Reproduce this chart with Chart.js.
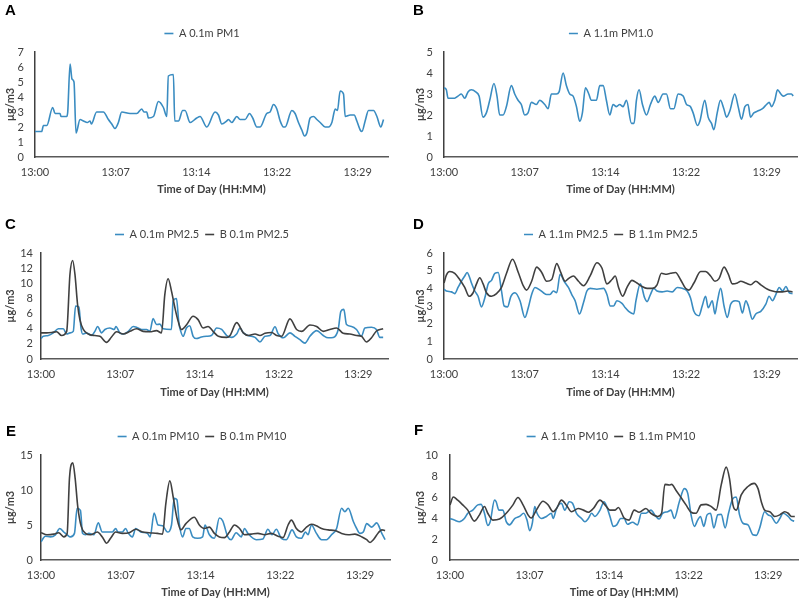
<!DOCTYPE html>
<html>
<head>
<meta charset="utf-8">
<script src="https://cdn.jsdelivr.net/npm/chart.js@4.4.1/dist/chart.umd.min.js"></script>
<style>
  body { margin: 0; background: #fff; width: 800px; height: 600px; position: relative; overflow: hidden; }
  canvas { position: absolute; }
  .letter { position: absolute; font: bold 15px "Liberation Sans", Arial, sans-serif; line-height: 15px; color: #000; }
</style>
</head>
<body>
<canvas id="cA" width="400" height="200" style="left:0;top:0"></canvas>
<canvas id="cB" width="400" height="200" style="left:400px;top:0"></canvas>
<canvas id="cC" width="400" height="200" style="left:0;top:201px"></canvas>
<canvas id="cD" width="400" height="200" style="left:400px;top:201px"></canvas>
<canvas id="cE" width="400" height="197" style="left:0;top:403px"></canvas>
<canvas id="cF" width="400" height="197" style="left:400px;top:403px"></canvas>
<div class="letter" style="left:5px;top:2px">A</div>
<div class="letter" style="left:413px;top:2px">B</div>
<div class="letter" style="left:5px;top:216px">C</div>
<div class="letter" style="left:413px;top:216px">D</div>
<div class="letter" style="left:6px;top:423px">E</div>
<div class="letter" style="left:414px;top:422px">F</div>
<script>
// minutes after 13:00 and readings (ug/m3)

// A - 0.1m PM1
const a01Pm1T = [0, 0.6, 0.75, 1.05, 1.58, 1.79, 2.23, 2.32, 2.83, 2.92, 3.13, 3.3, 3.48, 3.66, 4.02, 4.32, 4.67, 4.91, 5.03, 5.5, 6.1, 6.55, 6.85, 7.14, 7.44, 7.74, 8.48, 9.08, 9.52, 9.73, 9.97, 10.12, 10.57, 11.01, 11.46, 11.76, 11.9, 12.35, 12.47, 12.8, 13.18, 13.39, 13.84, 14.43, 14.73, 15.33, 16.07, 16.37, 16.67, 17.11, 17.26, 17.56, 18.01, 18.3, 18.75, 19.14, 19.43, 19.79, 20.09, 20.68, 20.98, 21.28, 21.58, 21.88, 22.17, 22.32, 22.92, 23.21, 23.51, 23.81, 24.05, 24.26, 24.55, 24.85, 25.15, 25.45, 25.89, 26.19, 26.49, 26.79, 26.99, 27.23, 27.53, 27.68, 28.13, 28.48, 28.72, 29.02, 29.17, 29.46, 29.76, 30.21, 30.51, 30.86, 31.1];
const a01Pm1V = [1.7, 1.7, 2.1, 2.1, 3.3, 2.9, 2.9, 2.7, 2.7, 3.0, 6.2, 5.2, 5.0, 1.6, 2.5, 2.4, 2.3, 2.4, 2.2, 3.0, 3.0, 2.5, 2.2, 1.9, 2.3, 3.0, 2.9, 2.9, 3.2, 3.0, 3.0, 2.6, 2.7, 3.7, 3.3, 2.7, 5.4, 5.5, 2.4, 2.4, 3.1, 3.1, 2.3, 2.6, 2.7, 2.0, 3.0, 2.8, 2.2, 2.4, 2.5, 2.3, 2.7, 2.5, 2.5, 2.9, 2.6, 2.0, 2.0, 2.9, 3.0, 3.5, 3.2, 2.4, 2.0, 2.0, 3.1, 2.9, 2.3, 1.8, 1.4, 1.6, 2.6, 2.7, 2.5, 2.3, 2.0, 2.0, 2.3, 3.2, 3.1, 4.4, 4.2, 2.7, 2.8, 2.8, 2.4, 1.8, 1.7, 2.4, 3.1, 3.1, 2.7, 2.0, 2.5];

// B - 1.1m PM1.0
const a11Pm1T = [0, 0.21, 0.36, 0.65, 0.95, 1.25, 1.55, 1.85, 2.14, 2.44, 2.83, 3.13, 3.48, 3.78, 4.08, 4.46, 4.73, 4.97, 5.27, 5.57, 6.01, 6.31, 6.61, 6.9, 7.2, 7.5, 7.8, 8.24, 8.54, 8.99, 9.29, 9.58, 10.03, 10.27, 10.63, 10.92, 11.22, 11.52, 11.82, 12.11, 12.35, 12.62, 12.92, 13.15, 13.6, 13.9, 14.2, 14.49, 14.79, 15.09, 15.39, 15.68, 15.98, 16.28, 16.73, 16.96, 17.17, 17.41, 17.71, 18.07, 18.42, 18.81, 19.11, 19.55, 19.85, 20.21, 20.51, 20.89, 21.34, 21.64, 21.99, 22.23, 22.62, 22.83, 23.27, 23.57, 23.87, 24.08, 24.38, 24.67, 24.97, 25.21, 25.51, 25.95, 26.25, 26.55, 26.85, 27.14, 27.35, 27.65, 28.04, 28.42, 28.78, 29.02, 29.23, 29.52, 29.76, 30.06, 30.27, 30.71, 31.01, 31.16];
const a11Pm1V = [3.3, 3.2, 2.8, 2.8, 2.8, 2.9, 3.0, 2.8, 3.1, 3.2, 3.1, 2.9, 1.9, 2.1, 2.7, 3.5, 2.9, 2.0, 2.0, 2.4, 3.4, 3.0, 2.7, 2.5, 2.0, 2.1, 2.6, 2.5, 2.7, 2.5, 2.3, 3.0, 3.0, 3.1, 4.0, 3.4, 3.0, 2.9, 2.4, 1.7, 2.1, 3.3, 3.0, 2.7, 2.7, 3.4, 3.4, 2.7, 2.0, 2.5, 2.4, 2.5, 2.4, 2.7, 1.6, 1.6, 2.7, 3.2, 2.5, 2.0, 2.5, 2.9, 2.6, 3.0, 3.0, 2.3, 2.3, 3.0, 2.9, 2.5, 2.4, 2.1, 1.5, 1.7, 2.7, 1.9, 1.6, 1.3, 2.1, 2.7, 2.3, 1.9, 2.2, 3.0, 2.4, 1.8, 2.4, 2.5, 1.9, 2.1, 2.2, 2.3, 2.5, 2.6, 2.4, 2.7, 3.2, 3.0, 2.9, 3.0, 3.0, 2.9];

// C - 0.1m PM2.5
const a01Pm25T = [0, 0.21, 0.66, 1.12, 1.57, 2.02, 2.33, 2.63, 2.93, 3.14, 3.44, 3.63, 3.78, 4.14, 4.59, 4.89, 5.14, 5.5, 5.8, 6.25, 6.65, 6.8, 7.16, 7.46, 7.92, 8.37, 8.67, 9.12, 9.58, 9.88, 10.18, 10.48, 10.79, 11.09, 11.84, 11.99, 12.3, 12.51, 12.69, 12.9, 13.2, 13.5, 13.81, 14.11, 14.56, 15.02, 15.47, 15.95, 16.4, 16.86, 17.31, 17.76, 18.07, 18.37, 18.82, 19.43, 19.88, 20.33, 20.79, 21.24, 21.54, 21.99, 22.6, 23.05, 23.5, 23.96, 24.41, 25.02, 25.62, 26.07, 26.53, 26.98, 27.22, 27.49, 27.73, 28.19, 28.64, 29.09, 29.4, 30.0, 30.45, 30.76, 31.06];
const a01Pm25V = [2.7, 3.0, 3.1, 3.45, 4.0, 4.0, 3.3, 3.45, 3.65, 7.0, 6.85, 4.1, 3.3, 3.45, 3.1, 3.65, 4.3, 3.45, 3.9, 4.1, 3.9, 4.3, 3.45, 3.3, 3.65, 4.3, 4.2, 3.9, 3.9, 3.65, 5.35, 4.55, 4.6, 4.0, 3.9, 7.65, 8.0, 4.8, 3.65, 3.0, 4.1, 4.4, 3.0, 2.7, 2.9, 3.0, 3.1, 4.1, 3.9, 3.1, 2.85, 3.3, 4.1, 3.45, 3.1, 2.85, 2.25, 3.0, 3.1, 4.25, 3.3, 2.8, 3.45, 3.0, 2.55, 2.1, 3.0, 3.75, 3.1, 2.8, 2.85, 3.9, 6.3, 6.55, 4.55, 4.3, 3.9, 3.0, 4.1, 4.2, 3.9, 2.85, 2.85];
const b01Pm25T = [0, 0.51, 0.97, 1.42, 1.87, 2.33, 2.63, 2.87, 3.08, 3.32, 3.53, 3.84, 4.29, 4.89, 5.35, 5.95, 6.4, 6.86, 7.46, 8.07, 8.67, 9.27, 9.88, 10.48, 10.94, 11.24, 11.54, 11.84, 12.15, 12.45, 12.75, 13.2, 13.81, 14.26, 14.71, 15.17, 15.62, 16.1, 16.86, 17.16, 17.76, 18.37, 18.82, 19.43, 19.88, 20.33, 20.94, 21.39, 21.84, 22.6, 23.2, 23.66, 24.41, 25.02, 25.62, 26.22, 26.83, 27.43, 28.04, 28.64, 29.09, 29.55, 30.0, 30.45, 31.06];
const b01Pm25V = [3.45, 3.45, 3.5, 3.6, 3.1, 3.65, 11.2, 13.0, 11.2, 7.2, 5.2, 3.9, 3.3, 3.1, 3.0, 2.2, 2.9, 3.6, 3.3, 3.65, 4.0, 3.65, 3.6, 3.75, 3.45, 8.5, 10.6, 9.0, 6.8, 5.0, 3.9, 4.5, 5.65, 5.2, 4.1, 4.3, 3.65, 3.0, 2.85, 3.1, 4.8, 3.45, 3.1, 3.3, 3.1, 3.4, 3.5, 3.1, 3.0, 5.3, 3.9, 3.65, 4.5, 4.3, 3.65, 3.9, 4.1, 3.4, 3.3, 3.1, 3.0, 2.25, 2.8, 3.7, 4.0];

// D - 1.1m PM2.5
const a11Pm25T = [0, 0.21, 0.66, 0.96, 1.25, 1.55, 1.85, 2.06, 2.24, 2.45, 2.75, 3.04, 3.34, 3.64, 3.94, 4.24, 4.54, 4.84, 5.13, 5.37, 5.67, 5.97, 6.33, 6.78, 7.22, 7.52, 7.82, 8.12, 8.57, 8.87, 9.16, 9.46, 9.76, 10.06, 10.36, 10.72, 11.1, 11.4, 11.7, 12.09, 12.45, 12.75, 13.04, 13.64, 14.24, 14.54, 14.84, 15.13, 15.43, 15.88, 16.18, 16.48, 16.93, 17.13, 17.52, 17.91, 18.12, 18.42, 18.72, 19.01, 19.46, 19.91, 20.36, 20.81, 21.25, 21.7, 22.0, 22.3, 22.75, 23.04, 23.34, 23.58, 23.94, 24.18, 24.39, 24.69, 24.99, 25.28, 25.58, 25.97, 26.33, 26.63, 26.93, 27.16, 27.52, 27.82, 28.27, 28.72, 29.01, 29.31, 29.61, 29.91, 30.21, 30.51, 30.81, 31.1];
const a11Pm25V = [3.95, 3.85, 3.8, 3.7, 4.05, 4.4, 4.7, 4.9, 4.7, 4.3, 3.85, 3.55, 2.95, 3.45, 4.25, 4.45, 4.85, 4.9, 3.85, 3.0, 2.95, 3.55, 3.75, 3.3, 2.35, 2.9, 3.65, 4.05, 3.9, 3.75, 3.65, 3.65, 3.85, 3.75, 4.8, 4.4, 4.05, 3.65, 3.3, 2.55, 3.2, 3.85, 4.0, 3.95, 4.0, 3.65, 3.0, 3.0, 3.3, 3.15, 2.9, 2.7, 2.55, 3.3, 4.25, 3.45, 3.25, 3.65, 4.0, 3.85, 3.8, 3.85, 3.8, 4.05, 4.0, 3.85, 3.45, 2.7, 2.45, 3.0, 3.55, 2.9, 3.3, 2.55, 3.25, 4.0, 3.0, 2.35, 3.1, 3.3, 3.25, 2.6, 3.3, 3.0, 2.25, 2.55, 2.7, 3.1, 3.55, 3.3, 3.65, 4.05, 3.85, 4.1, 3.75, 3.7];
const b11Pm25T = [0, 0.21, 0.51, 0.96, 1.4, 1.85, 2.24, 2.6, 2.9, 3.19, 3.49, 3.79, 4.24, 4.69, 5.13, 5.58, 6.12, 6.63, 7.07, 7.37, 7.82, 8.27, 8.72, 9.16, 9.61, 10.06, 10.42, 10.81, 11.1, 11.55, 12.0, 12.45, 13.04, 13.64, 14.09, 14.54, 14.99, 15.28, 15.58, 15.94, 16.33, 16.78, 17.22, 17.67, 18.12, 18.57, 19.01, 19.4, 19.76, 20.21, 20.66, 21.1, 21.55, 21.85, 22.3, 22.9, 23.34, 23.79, 24.18, 24.54, 24.99, 25.37, 25.73, 26.18, 26.48, 26.93, 27.37, 27.82, 28.27, 28.87, 29.31, 29.76, 30.21, 30.66, 31.1];
const b11Pm25V = [4.3, 4.75, 4.95, 4.85, 4.5, 4.05, 3.55, 3.75, 4.25, 4.6, 4.25, 3.75, 3.55, 3.7, 4.05, 4.85, 5.65, 4.9, 4.15, 3.9, 4.4, 5.2, 4.9, 4.4, 4.5, 5.4, 4.9, 4.4, 4.55, 4.7, 4.4, 4.15, 4.7, 5.45, 5.15, 4.25, 4.5, 4.7, 4.05, 3.55, 4.05, 4.45, 4.3, 4.1, 4.0, 4.0, 4.2, 4.85, 4.8, 4.85, 4.9, 4.5, 4.0, 3.9, 4.3, 4.95, 4.95, 4.7, 4.4, 4.55, 5.2, 4.8, 4.25, 4.3, 4.4, 4.3, 4.2, 4.4, 4.2, 3.95, 3.85, 3.8, 3.8, 3.85, 3.8];

// E - 0.1m PM10
const a01Pm10T = [0, 0.39, 0.85, 1.3, 1.69, 2.05, 2.36, 2.66, 3.02, 3.26, 3.56, 3.75, 4.02, 4.32, 4.77, 5.17, 5.53, 5.98, 6.44, 6.74, 6.95, 7.34, 7.64, 7.85, 8.25, 8.55, 9.0, 9.61, 9.85, 10.21, 10.57, 10.97, 11.42, 11.78, 12.02, 12.27, 12.48, 12.78, 13.08, 13.38, 13.69, 14.14, 14.59, 14.8, 15.2, 15.65, 16.1, 16.4, 16.86, 17.16, 17.61, 18.07, 18.37, 18.67, 19.43, 20.03, 20.48, 20.85, 21.24, 21.69, 22.15, 22.66, 23.05, 23.5, 23.87, 24.1, 24.41, 24.86, 25.32, 25.77, 26.22, 26.68, 27.13, 27.43, 27.73, 28.19, 28.49, 28.79, 29.09, 29.4, 29.85, 30.3, 30.76, 31.06];
const a01Pm10V = [2.6, 3.4, 3.3, 3.6, 4.5, 4.0, 3.6, 3.3, 3.8, 7.4, 7.1, 3.8, 3.6, 3.8, 3.6, 5.3, 4.0, 4.0, 4.0, 4.5, 4.0, 4.0, 4.5, 3.9, 3.3, 4.5, 4.0, 3.8, 3.3, 6.7, 5.0, 4.9, 4.0, 5.0, 8.8, 8.6, 5.2, 3.3, 4.5, 4.5, 3.3, 3.1, 3.3, 5.0, 3.6, 3.1, 6.0, 5.6, 3.3, 2.9, 3.9, 3.3, 4.5, 3.8, 2.9, 3.0, 4.4, 3.6, 4.4, 3.1, 2.9, 4.3, 3.3, 3.1, 4.0, 3.6, 5.0, 3.8, 2.9, 2.9, 3.6, 4.5, 7.4, 6.9, 7.4, 5.5, 4.5, 3.8, 4.0, 5.2, 4.7, 5.3, 3.8, 2.9];
const b01Pm10T = [0, 0.54, 1.15, 1.6, 2.05, 2.36, 2.57, 2.87, 3.08, 3.32, 3.63, 4.02, 4.47, 5.08, 5.53, 5.92, 6.28, 6.74, 7.34, 7.95, 8.55, 9.15, 9.76, 10.51, 10.97, 11.27, 11.63, 11.93, 12.24, 12.63, 13.08, 13.84, 14.29, 14.74, 15.2, 15.65, 16.1, 16.56, 17.01, 17.46, 17.92, 18.37, 18.97, 19.58, 20.18, 20.79, 21.39, 21.84, 22.3, 22.6, 23.05, 23.5, 23.96, 24.41, 24.86, 25.32, 25.92, 26.53, 27.13, 27.73, 28.34, 28.94, 29.4, 29.7, 30.0, 30.45, 30.76, 31.06];
const b01Pm10V = [3.9, 3.6, 3.7, 3.9, 3.3, 3.8, 11.7, 13.9, 11.7, 7.6, 4.8, 3.8, 3.6, 4.0, 3.3, 2.4, 3.1, 4.0, 3.8, 3.9, 4.4, 4.0, 3.9, 3.8, 3.7, 8.1, 11.3, 9.0, 6.2, 4.3, 5.2, 6.1, 5.0, 4.5, 4.7, 3.8, 3.3, 3.2, 4.0, 5.0, 4.5, 3.6, 3.7, 3.8, 3.6, 3.8, 3.4, 3.2, 5.0, 5.7, 4.5, 4.0, 4.7, 5.1, 4.9, 4.5, 4.3, 4.2, 3.8, 3.6, 3.7, 3.3, 2.9, 2.5, 2.9, 3.9, 4.3, 4.2];

// F - 1.1m PM10
const a11Pm10T = [0, 0.39, 0.85, 1.3, 1.61, 2.06, 2.52, 2.82, 3.12, 3.42, 3.64, 4.03, 4.18, 4.42, 4.79, 5.09, 5.39, 5.85, 6.3, 6.67, 6.97, 7.21, 7.45, 7.67, 7.88, 8.27, 8.73, 9.18, 9.33, 9.64, 10.09, 10.39, 10.79, 11.09, 11.45, 11.91, 12.21, 12.52, 12.82, 13.12, 13.58, 13.94, 14.18, 14.48, 14.79, 15.09, 15.45, 15.76, 16.06, 16.52, 16.97, 17.33, 17.73, 18.18, 18.64, 18.94, 19.24, 19.7, 20.0, 20.3, 20.76, 21.21, 21.52, 21.82, 22.12, 22.42, 22.67, 22.97, 23.27, 23.58, 23.88, 24.24, 24.55, 24.91, 25.21, 25.61, 25.91, 26.21, 26.52, 26.97, 27.42, 27.73, 28.03, 28.48, 28.79, 29.09, 29.55, 29.85, 30.15, 30.61, 30.91, 31.15];
const a11Pm10V = [3.95, 3.8, 3.65, 3.95, 4.45, 4.75, 5.25, 5.3, 4.45, 3.3, 3.65, 5.7, 5.55, 4.75, 4.75, 3.65, 3.35, 3.95, 4.15, 4.45, 3.8, 2.8, 3.5, 5.1, 4.45, 3.95, 4.15, 4.45, 3.95, 4.9, 5.4, 4.75, 5.55, 5.4, 4.45, 3.95, 3.65, 3.95, 4.45, 4.15, 4.75, 5.55, 5.1, 4.15, 3.2, 3.35, 3.95, 3.95, 3.4, 3.6, 3.35, 4.45, 4.45, 4.75, 4.15, 3.9, 4.45, 4.6, 4.75, 3.95, 5.55, 6.8, 6.35, 4.3, 3.2, 3.8, 4.15, 3.2, 4.3, 4.45, 3.05, 4.3, 4.35, 3.05, 4.45, 5.85, 6.0, 4.3, 3.5, 3.35, 2.4, 2.35, 3.05, 4.6, 4.3, 4.15, 3.5, 3.95, 4.45, 4.15, 3.8, 3.7];
const b11Pm10T = [0, 0.3, 0.7, 1.15, 1.61, 2.21, 2.67, 3.12, 3.42, 3.88, 4.48, 5.09, 5.7, 6.15, 6.61, 7.06, 7.36, 7.82, 8.42, 8.88, 9.33, 9.64, 10.09, 10.55, 11.0, 11.61, 12.06, 12.52, 12.97, 13.58, 14.03, 14.48, 14.94, 15.24, 15.76, 16.21, 16.67, 17.12, 17.73, 18.18, 18.79, 19.15, 19.45, 19.85, 20.06, 20.45, 20.91, 21.36, 21.82, 22.27, 22.73, 23.18, 23.64, 24.09, 24.55, 25.0, 25.3, 25.61, 25.91, 26.36, 26.97, 27.52, 27.88, 28.18, 28.48, 28.94, 29.39, 29.85, 30.3, 30.61, 30.91, 31.21];
const b11Pm10V = [5.25, 6.0, 5.7, 5.25, 4.75, 3.7, 4.3, 5.1, 4.45, 3.8, 3.9, 4.45, 5.25, 5.95, 5.25, 4.3, 4.0, 4.75, 5.6, 5.25, 4.6, 4.9, 5.7, 5.2, 4.6, 4.9, 4.75, 4.55, 4.9, 5.7, 5.25, 4.75, 4.75, 5.0, 4.0, 3.8, 4.75, 4.55, 4.9, 4.45, 4.15, 4.45, 7.2, 7.15, 7.2, 6.65, 5.95, 5.25, 4.55, 4.45, 5.25, 5.3, 5.1, 4.75, 7.15, 8.85, 7.75, 5.25, 4.75, 6.2, 7.0, 7.3, 6.8, 5.55, 4.75, 4.6, 4.15, 4.3, 4.6, 4.45, 4.15, 4.15];

// x axis ticks every 7.2 minutes, labelled as Excel rounds them
const tickMinutes = [0, 7.2, 14.4, 21.6, 28.8];
const tickLabels = ['13:00', '13:07', '13:14', '13:22', '13:29'];

const blue = '#3a8cc1';
const gray = '#404040';
const textColor = '#404040';
const font = 'Lato';

function pts(t, v) {
  return t.map((x, i) => ({ x: x, y: v[i] }));
}

// legend: a bit taller, and centred where the original has it
const tweak = {
  id: 'tweak',
  beforeLayout(chart, args, opts) {
    const lg = chart.legend;
    if (lg && !lg._patched) {
      const fit = lg.fit;
      lg.fit = function () { fit.call(this); this.height += opts.extra; };
      lg._patched = true;
    }
  },
  afterLayout(chart, args, opts) {
    const lg = chart.legend;
    const dx = opts.legendX - (lg.left + lg.right) / 2;
    lg.left += dx;
    lg.right += dx;
  }
};

function panel(id, series, yMax, yStep, box) {
  const canvas = document.getElementById(id);
  const H = canvas.height;
  new Chart(canvas, {
    type: 'line',
    data: {
      datasets: series.map(s => ({
        label: s.label,
        data: pts(s.t, s.v),
        borderColor: s.color,
        backgroundColor: s.color,
        borderWidth: 1.6,
        pointRadius: 0,
        fill: false,
        cubicInterpolationMode: 'monotone',
        order: s.order
      }))
    },
    options: {
      responsive: false,
      animation: false,
      devicePixelRatio: 1,
      layout: { padding: { top: 22, left: 0, right: 400 - box.right, bottom: 0 } },
      plugins: {
        tooltip: { enabled: false },
        tweak: { extra: 3, legendX: box.legendX },
        legend: {
          position: 'top',
          labels: {
            usePointStyle: true,
            pointStyle: 'line',
            pointStyleWidth: 9,
            boxHeight: 11,
            padding: 6,
            color: textColor,
            font: { family: font, size: 11 },
            sort: (a, b) => a.datasetIndex - b.datasetIndex
          }
        }
      },
      scales: {
        x: {
          type: 'linear',
          min: 0,
          max: 31.5,
          afterBuildTicks: s => { s.ticks = tickMinutes.map(v => ({ value: v })); },
          afterFit: s => { s.height = H - box.bottom; },
          grid: { display: false, drawTicks: false },
          border: { display: true, color: '#595959', width: 1.5 },
          ticks: {
            autoSkip: false,
            maxRotation: 0,
            padding: 9,
            color: textColor,
            font: { family: font, size: 11 },
            callback: (v, i) => tickLabels[i]
          },
          title: {
            display: true,
            text: 'Time of Day (HH:MM)',
            color: textColor,
            font: { family: font, size: 11, weight: 'bold' },
            padding: { top: 0, bottom: H - box.xTitleY - 6.6 }
          }
        },
        y: {
          min: 0,
          max: yMax,
          afterFit: s => { s.width = box.left; },
          grid: { display: false, drawTicks: false },
          border: { display: true, color: '#404040', width: 1.5 },
          ticks: {
            stepSize: yStep,
            autoSkip: false,
            padding: box.tickPad,
            color: textColor,
            font: { family: font, size: 11 }
          },
          title: {
            display: true,
            text: 'µg/m3',
            color: textColor,
            font: { family: font, size: 11, weight: 'bold' },
            padding: { top: box.yTitleX - 6.6, bottom: 0 }
          }
        }
      }
    },
    plugins: [tweak]
  });
}

panel('cA', [
  { label: 'A 0.1m PM1', t: a01Pm1T, v: a01Pm1V, color: blue, order: 1 }
], 7, 1, { left: 35, right: 388, bottom: 157, xTitleY: 189, yTitleX: 10.5, tickPad: 11, legendX: 202 });

panel('cB', [
  { label: 'A 1.1m PM1.0', t: a11Pm1T, v: a11Pm1V, color: blue, order: 1 }
], 5, 1, { left: 44, right: 397, bottom: 157, xTitleY: 189, yTitleX: 20, tickPad: 11, legendX: 211 });

panel('cC', [
  { label: 'A 0.1m PM2.5', t: a01Pm25T, v: a01Pm25V, color: blue, order: 1 },
  { label: 'B 0.1m PM2.5', t: b01Pm25T, v: b01Pm25V, color: gray, order: 0 }
], 14, 2, { left: 41, right: 388, bottom: 158, xTitleY: 191, yTitleX: 10.5, tickPad: 8, legendX: 202 });

panel('cD', [
  { label: 'A 1.1m PM2.5', t: a11Pm25T, v: a11Pm25V, color: blue, order: 1 },
  { label: 'B 1.1m PM2.5', t: b11Pm25T, v: b11Pm25V, color: gray, order: 0 }
], 6, 1, { left: 44, right: 397, bottom: 158, xTitleY: 191, yTitleX: 20, tickPad: 11, legendX: 211 });

panel('cE', [
  { label: 'A 0.1m PM10', t: a01Pm10T, v: a01Pm10V, color: blue, order: 1 },
  { label: 'B 0.1m PM10', t: b01Pm10T, v: b01Pm10V, color: gray, order: 0 }
], 15, 5, { left: 41, right: 390, bottom: 157, xTitleY: 189, yTitleX: 10.5, tickPad: 8, legendX: 202 });

panel('cF', [
  { label: 'A 1.1m PM10', t: a11Pm10T, v: a11Pm10V, color: blue, order: 1 },
  { label: 'B 1.1m PM10', t: b11Pm10T, v: b11Pm10V, color: gray, order: 0 }
], 10, 2, { left: 50, right: 398, bottom: 157, xTitleY: 189, yTitleX: 20, tickPad: 12, legendX: 211 });
</script>
</body>
</html>
